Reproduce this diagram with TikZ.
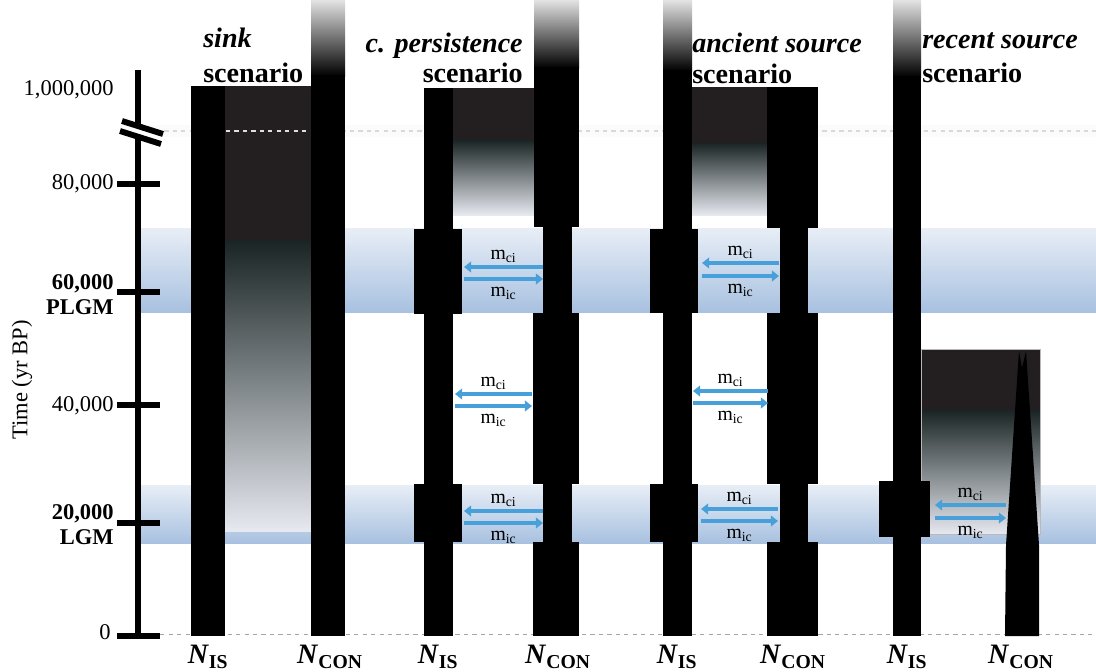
\documentclass[tikz,border=0pt]{standalone}
\usepackage{fontspec}
\setmainfont{Liberation Serif}
\usetikzlibrary{arrows.meta}
\definecolor{darkfill}{RGB}{35,31,32}
\definecolor{tealdark}{RGB}{26,36,36}
\definecolor{fadeend}{RGB}{230,233,240}
\definecolor{bandtop}{RGB}{232,238,246}
\definecolor{bandbot}{RGB}{168,193,224}
\definecolor{migblue}{RGB}{72,160,218}
\newcommand{\labIS}{\textbf{\textit{N}\textsubscript{IS}}}
\newcommand{\labCON}{\textbf{\textit{N}\textsubscript{CON}}}

\begin{document}
\begin{tikzpicture}[x=0.025cm,y=-0.025cm,
  axisline/.style={line width=4.2pt},
  ticklab/.style={anchor=east,inner sep=0pt,font=\fontsize{16}{18}\selectfont},
  ttl/.style={inner sep=0pt,font=\fontsize{20}{24}\selectfont\bfseries},
  nlab/.style={inner sep=0pt,font=\fontsize{20}{24}\selectfont},
  mlab/.style={inner sep=0pt,font=\fontsize{14}{16}\selectfont},
  mig/.style={draw=migblue,line width=2.6pt,-{Triangle[length=5pt,width=7.5pt]}},
  band/.style={top color=bandtop,bottom color=bandbot},
  fadebox/.style={top color=tealdark,bottom color=fadeend},
  topfade/.style={top color=gray!22,bottom color=black}]
\useasboundingbox (0,0) rectangle (1096,671);
%\draw[step=50,gray,very thin] (0,0) grid (1096,671);

% glacial bands
\shade[band] (139,228) rectangle (1096,312);
\shade[band] (139,485) rectangle (1096,543);
\fill[gray!3] (139,125) rectangle (1096,137);
\draw[gray!30,dashed,line width=0.8pt] (139,131) -- (1096,131);
\draw[gray!70,dashed,line width=0.7pt] (118,634) -- (1092,634);

% effective size shading
\fill[darkfill] (225,86) rectangle (311,241);
\shade[fadebox] (225,240) rectangle (311,531);
\draw[white!75!gray,dashed,line width=0.8pt] (226,131) -- (310,131);
\fill[darkfill] (453,88) rectangle (534,141);
\shade[fadebox] (453,140) rectangle (534,215);
\fill[darkfill] (692,87) rectangle (767,144);
\shade[fadebox] (692,143) rectangle (767,215);
\fill[darkfill] (921,349) rectangle (1040,411);
\shade[fadebox] (921,410) rectangle (1040,534);
\draw[gray!55,line width=0.4pt] (921,349) rectangle (1040,534);

% sink
\fill (191,86) rectangle (225,636);
\shade[topfade] (311,0) rectangle (345,76);
\fill (311,75) rectangle (345,636);

% c. persistence
\fill (424,88) rectangle (453,636);
\fill (414,229) rectangle (462,314);
\fill (414,484) rectangle (462,542);
\shade[topfade] (534,0) rectangle (579,68);
\fill (534,67) rectangle (579,227);
\fill (543,226) rectangle (572,636);
\fill (533,313) rectangle (579,484);
\fill (533,542) rectangle (579,636);

% ancient source
\shade[topfade] (663,0) rectangle (692,71);
\fill (663,70) rectangle (692,636);
\fill (650,229) rectangle (698,313);
\fill (650,484) rectangle (698,542);
\fill (767,87) rectangle (818,228);
\fill (780,227) rectangle (808,636);
\fill (767,313) rectangle (818,484);
\fill (767,542) rectangle (818,636);

% recent source
\shade[topfade] (893,0) rectangle (921,77);
\fill (893,76) rectangle (921,636);
\fill (879,481) rectangle (930,537);
\fill (1005,636) -- (1006,545) -- (1019,351) -- (1022,368) -- (1026,351)
  -- (1039,545) -- (1039,636) -- cycle;

% migration arrows
\foreach \nm/\xl/\xr/\ya/\yb in {cpa/464/543/267/279, cpb/455/532/394/406,
    cpc/464/543/511/523, asa/702/779/263/276, asb/693/768/391/403,
    asc/701/778/509/521, rsa/935/1006/505/518}{
  \coordinate (\nm-l1) at (\xl,\ya);
  \coordinate (\nm-r1) at (\xr,\ya);
  \coordinate (\nm-l2) at (\xl,\yb);
  \coordinate (\nm-r2) at (\xr,\yb);
  \draw[mig] (\nm-r1) -- (\nm-l1);
  \draw[mig] (\nm-l2) -- (\nm-r2);
  \node[mlab] (\nm-ci) at ({(\xl+\xr)/2},\ya-11) {m\textsubscript{ci}};
  \node[mlab] (\nm-ic) at ({(\xl+\xr)/2},\yb+14) {m\textsubscript{ic}};
}

% time axis
\draw[axisline] (138,70) -- (138,637);
\foreach \yy in {184,292,405,523,636}
  \draw[axisline] (117,\yy) -- (160,\yy);
\draw[white,line width=4pt] (120,126) -- (163,139);
\draw[axisline] (122,121) -- (163,134);
\draw[axisline] (120,131) -- (161,144);

\node[ticklab] (t1m) at (114,90) {1,000,000};
\node[ticklab] (t80) at (114,184) {80,000};
\node[ticklab,font=\fontsize{16}{18}\selectfont\bfseries] (t60) at (114,284) {60,000};
\node[ticklab,font=\fontsize{16}{18}\selectfont\bfseries] (plgm) at (114,307) {PLGM};
\node[ticklab] (t40) at (114,406) {40,000};
\node[ticklab,font=\fontsize{16}{18}\selectfont\bfseries] (t20) at (114,514) {20,000};
\node[ticklab,font=\fontsize{16}{18}\selectfont\bfseries] (lgm) at (114,537) {LGM};
\node[ticklab] (t0) at (111,632) {0};
\node[inner sep=0pt,rotate=90,font=\fontsize{16}{18}\selectfont] (tlab) at (22,380) {Time (yr BP)};

% scenario titles
\node[ttl,anchor=base west] (sinkA) at (203,47) {\itshape sink};
\node[ttl,anchor=base west] (sinkB) at (203,82) {scenario};
\node[ttl,anchor=base east] (cpA) at (523,52) {\itshape c. persistence};
\node[ttl,anchor=base east] (cpB) at (523,82) {scenario};
\node[ttl,anchor=base west] (asA) at (692,52) {\itshape ancient source};
\node[ttl,anchor=base west] (asB) at (692,83) {scenario};
\node[ttl,anchor=base west] (rsA) at (922,48) {\itshape recent source};
\node[ttl,anchor=base west] (rsB) at (922,82) {scenario};

% population labels
\node[nlab] (sIS) at (208,657) {\labIS};
\node[nlab] (sCON) at (330,657) {\labCON};
\node[nlab] (cIS) at (438,657) {\labIS};
\node[nlab] (cCON) at (558,657) {\labCON};
\node[nlab] (aIS) at (677,657) {\labIS};
\node[nlab] (aCON) at (793,657) {\labCON};
\node[nlab] (rIS) at (907,657) {\labIS};
\node[nlab] (rCON) at (1021,657) {\labCON};
\end{tikzpicture}
\end{document}
